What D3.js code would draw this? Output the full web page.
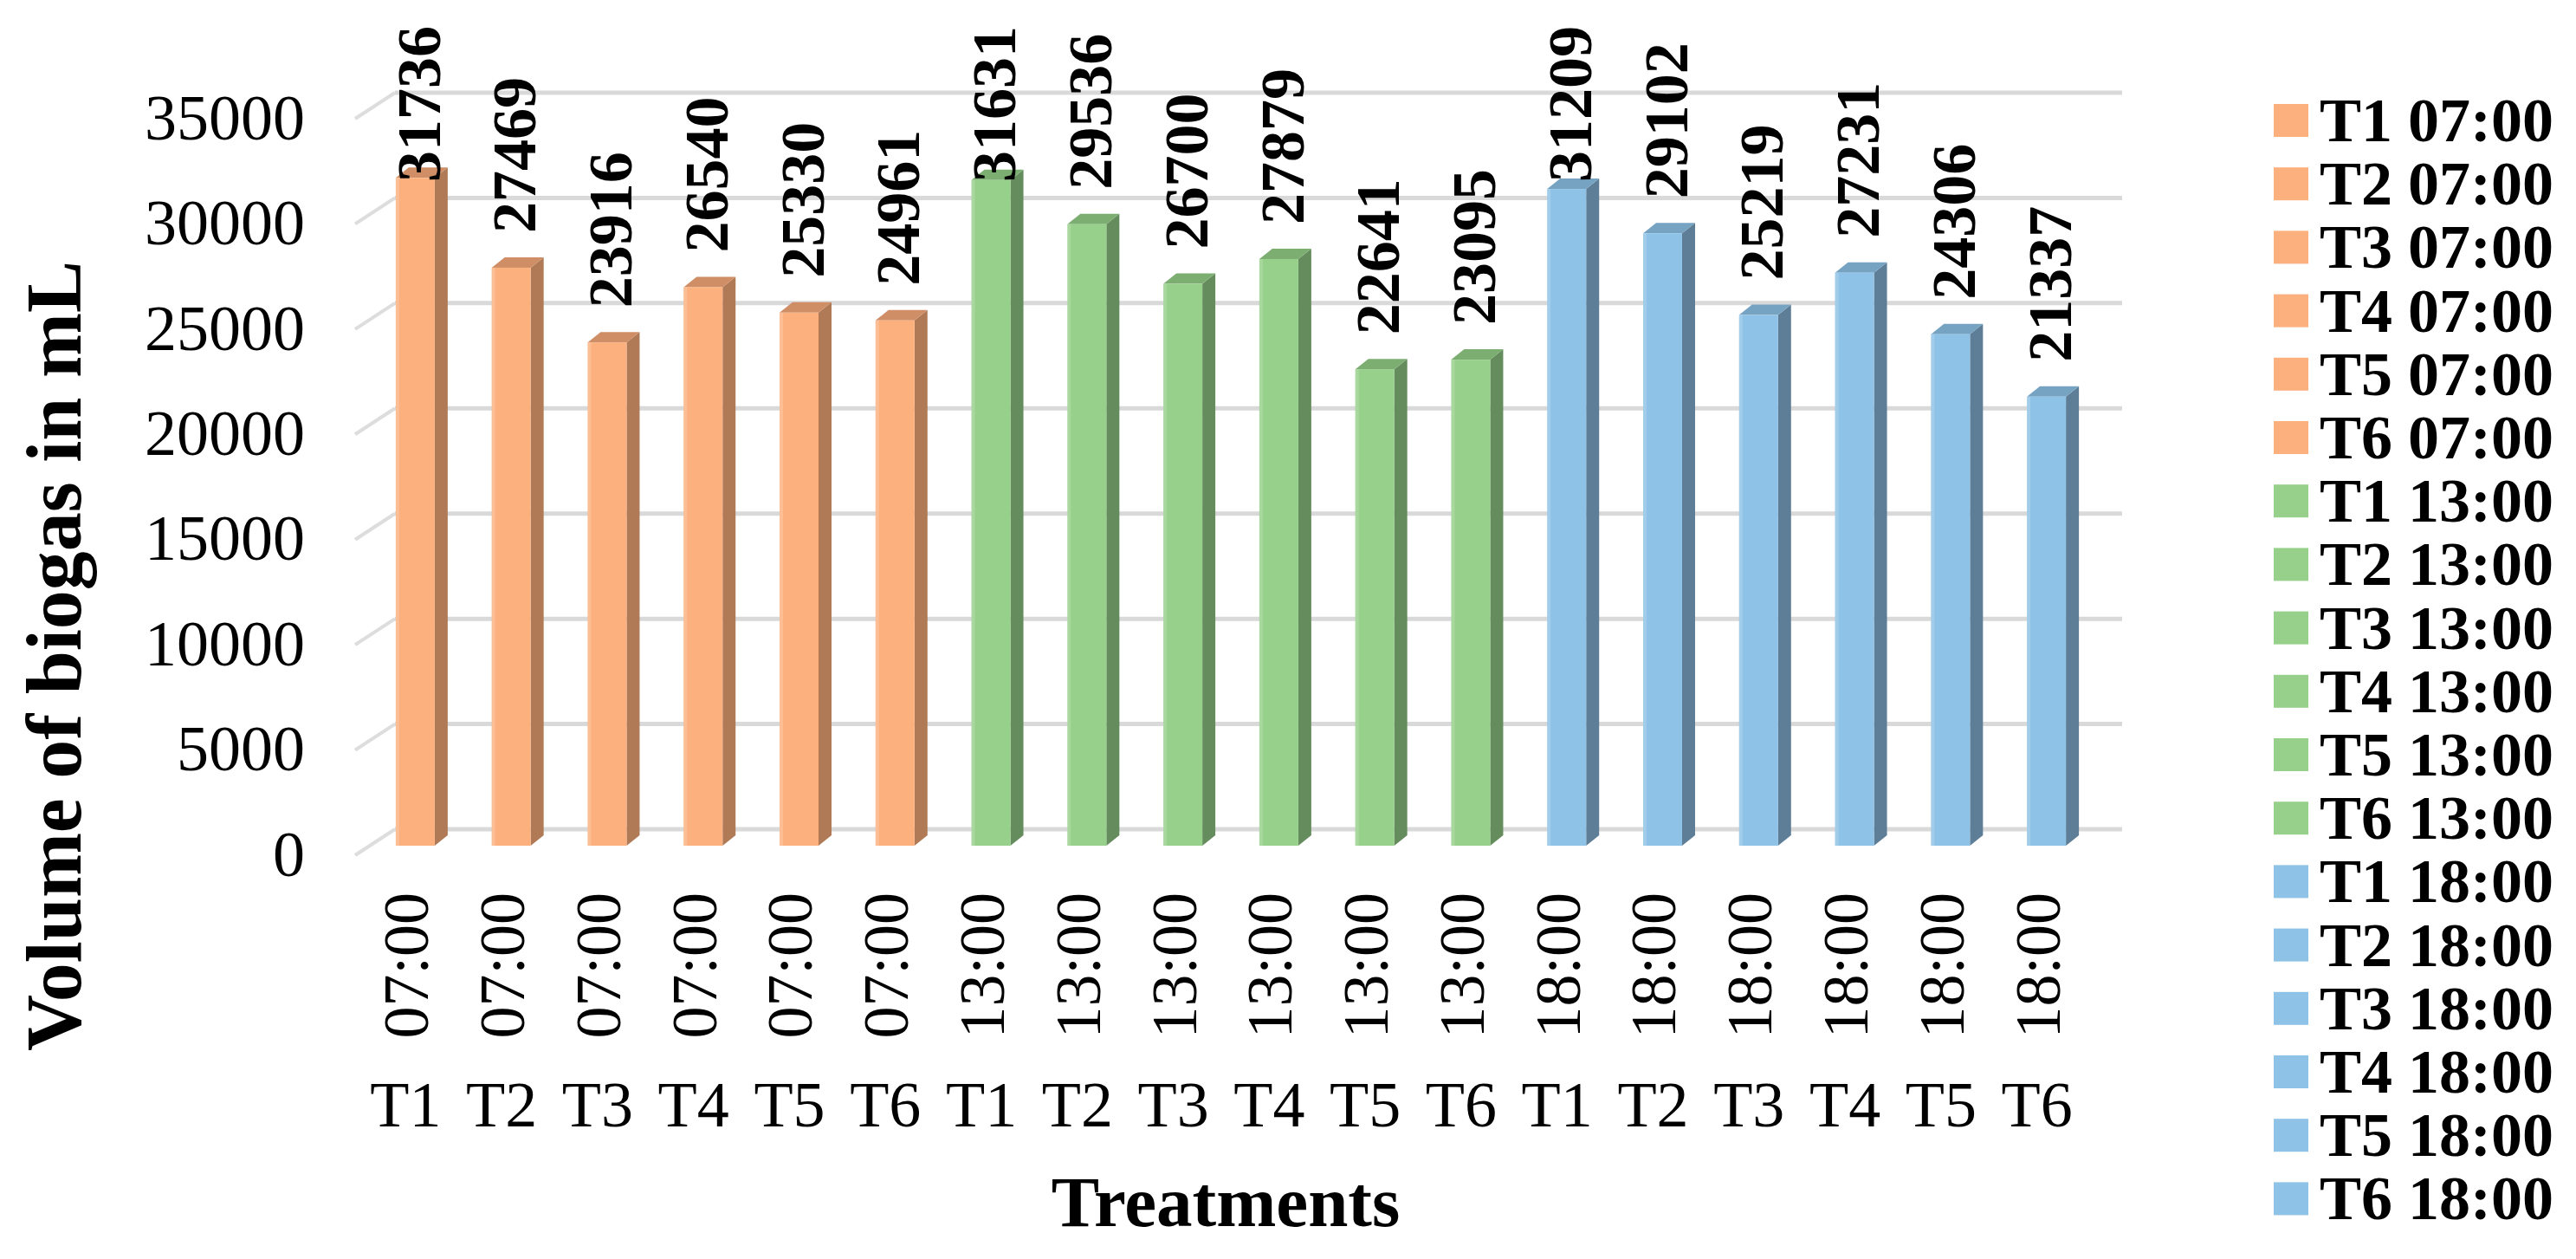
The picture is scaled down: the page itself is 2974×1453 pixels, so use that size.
<!DOCTYPE html>
<html>
<head>
<meta charset="utf-8">
<script src="https://cdn.jsdelivr.net/npm/d3@7"></script>
<style>
  html, body { margin: 0; padding: 0; background: #ffffff; }
  svg { display: block; }
  text { font-family: "Liberation Serif", "Times New Roman", serif; fill: #000; }
</style>
</head>
<body>
<svg id="chart" width="2974" height="1453"></svg>
<script>
// ---------------- data ----------------
const treatments = ["T1", "T2", "T3", "T4", "T5", "T6"];
const times = ["07:00", "13:00", "18:00"];
const values0700 = [31736, 27469, 23916, 26540, 25330, 24961];
const values1300 = [31631, 29536, 26700, 27879, 22641, 23095];
const values1800 = [31209, 29102, 25219, 27231, 24306, 21337];
const yTicks = [0, 5000, 10000, 15000, 20000, 25000, 30000, 35000];
const yTitle = "Volume of biogas in mL";
const xTitle = "Treatments";

const palette = {
  "07:00": { front: "#FCB07E", side: "#B07A56", top: "#CF8E66" },
  "13:00": { front: "#96D08A", side: "#658C5D", top: "#7CAE72" },
  "18:00": { front: "#8EC2E6", side: "#5E7E97", top: "#77A3C3" }
};

const seriesByTime = { "07:00": values0700, "13:00": values1300, "18:00": values1800 };
const rows = [];
times.forEach(t => treatments.forEach((tr, i) => {
  rows.push({ key: tr + " " + t, treatment: tr, time: t, value: seriesByTime[t][i] });
}));

// ---------------- layout ----------------
const svg = d3.select("#chart");
svg.append("rect").attr("width", 2974).attr("height", 1453).attr("fill", "#fff");

const depthDX = 46, depthDY = -30;           // side wall depth
const x = d3.scaleBand().domain(rows.map(d => d.key)).range([410, 2404]).paddingInner(0).paddingOuter(0);
const yBack = d3.scaleLinear().domain([0, 35000]).range([957, 107]);
const yFront = d3.scaleLinear().domain([0, 35000]).range([976, 126]);

const barW = 45, barDX = 15, barDY = -12, barShift = 14;

// gridlines (back wall + side wall)
const grid = svg.append("g");
yTicks.forEach(v => {
  const yb = yBack(v);
  grid.append("line")
    .attr("x1", 410 + depthDX).attr("x2", 2404 + depthDX)
    .attr("y1", yb).attr("y2", yb)
    .attr("stroke", "#D9D9D9").attr("stroke-width", 5);
  grid.append("line")
    .attr("x1", 410).attr("y1", yb - depthDY)
    .attr("x2", 410 + depthDX).attr("y2", yb)
    .attr("stroke", "#DDDDDD").attr("stroke-width", 4);
});

// y axis tick labels
const yAxisG = svg.append("g")
  .attr("transform", "translate(352," + (-depthDY - 2) + ")")
  .call(d3.axisLeft(yBack).tickValues(yTicks).tickSize(0).tickPadding(0).tickFormat(d3.format("d")));
yAxisG.select(".domain").remove();
yAxisG.selectAll("text")
  .attr("font-family", "Liberation Serif, Times New Roman, serif")
  .attr("font-size", 74).attr("fill", "#000").attr("dy", "0.34em");

// bars
const bars = svg.append("g");
rows.forEach(d => {
  const c = x(d.key) + x.bandwidth() / 2 + barShift;
  const x0 = c - barW / 2, x1 = c + barW / 2;
  const yt = yFront(d.value), yb = yFront(0);
  const col = palette[d.time];
  const g = bars.append("g");
  // side face
  g.append("path")
    .attr("d", `M${x1},${yt} L${x1 + barDX},${yt + barDY} L${x1 + barDX},${yb + barDY} L${x1},${yb} Z`)
    .attr("fill", col.side);
  // top face
  g.append("path")
    .attr("d", `M${x0},${yt} L${x0 + barDX},${yt + barDY} L${x1 + barDX},${yt + barDY} L${x1},${yt} Z`)
    .attr("fill", col.top);
  // front face
  g.append("rect")
    .attr("x", x0).attr("y", yt).attr("width", barW).attr("height", yb - yt)
    .attr("fill", col.front);
  // subtle highlight strip
  g.append("rect")
    .attr("x", x0).attr("y", yt).attr("width", 4).attr("height", yb - yt)
    .attr("fill", "#ffffff").attr("opacity", 0.18);
});

// value labels (rotated)
const vl = svg.append("g");
rows.forEach(d => {
  const c = x(d.key) + x.bandwidth() / 2 + barShift + 3;
  const t = vl.append("text")
    .attr("font-weight", "bold").attr("font-size", 72)
    .attr("dy", "0.35em")
    .text(d.value);
  const len = t.node().getComputedTextLength();
  let start = yFront(d.value) - 40;
  if (start - len < 30) start = 30 + len;
  t.attr("transform", `translate(${c},${start}) rotate(-90)`);
});

// x category labels
const xl = svg.append("g");
rows.forEach(d => {
  const c = x(d.key) + x.bandwidth() / 2 + 3;
  xl.append("text")
    .attr("font-size", 74).attr("text-anchor", "end").attr("dy", "0.35em")
    .attr("transform", `translate(${c},1030) rotate(-90)`)
    .text(d.time);
  xl.append("text")
    .attr("font-size", 74).attr("text-anchor", "middle")
    .attr("x", c).attr("y", 1300)
    .text(d.treatment);
});

// axis titles
svg.append("text")
  .attr("font-weight", "bold").attr("font-size", 90).attr("text-anchor", "middle")
  .attr("transform", "translate(93,757) rotate(-90)")
  .text(yTitle);
svg.append("text")
  .attr("font-weight", "bold").attr("font-size", 83).attr("text-anchor", "middle")
  .attr("x", 1415).attr("y", 1415)
  .text(xTitle);

// legend
const lg = svg.append("g");
rows.forEach((d, i) => {
  const cy = 139 + i * 73.2;
  lg.append("rect").attr("x", 2625).attr("y", cy - 19).attr("width", 40).attr("height", 38)
    .attr("fill", palette[d.time].front);
  lg.append("text").attr("x", 2678).attr("y", cy + 24)
    .attr("font-weight", "bold").attr("font-size", 72)
    .text(d.key);
});
</script>
</body>
</html>
